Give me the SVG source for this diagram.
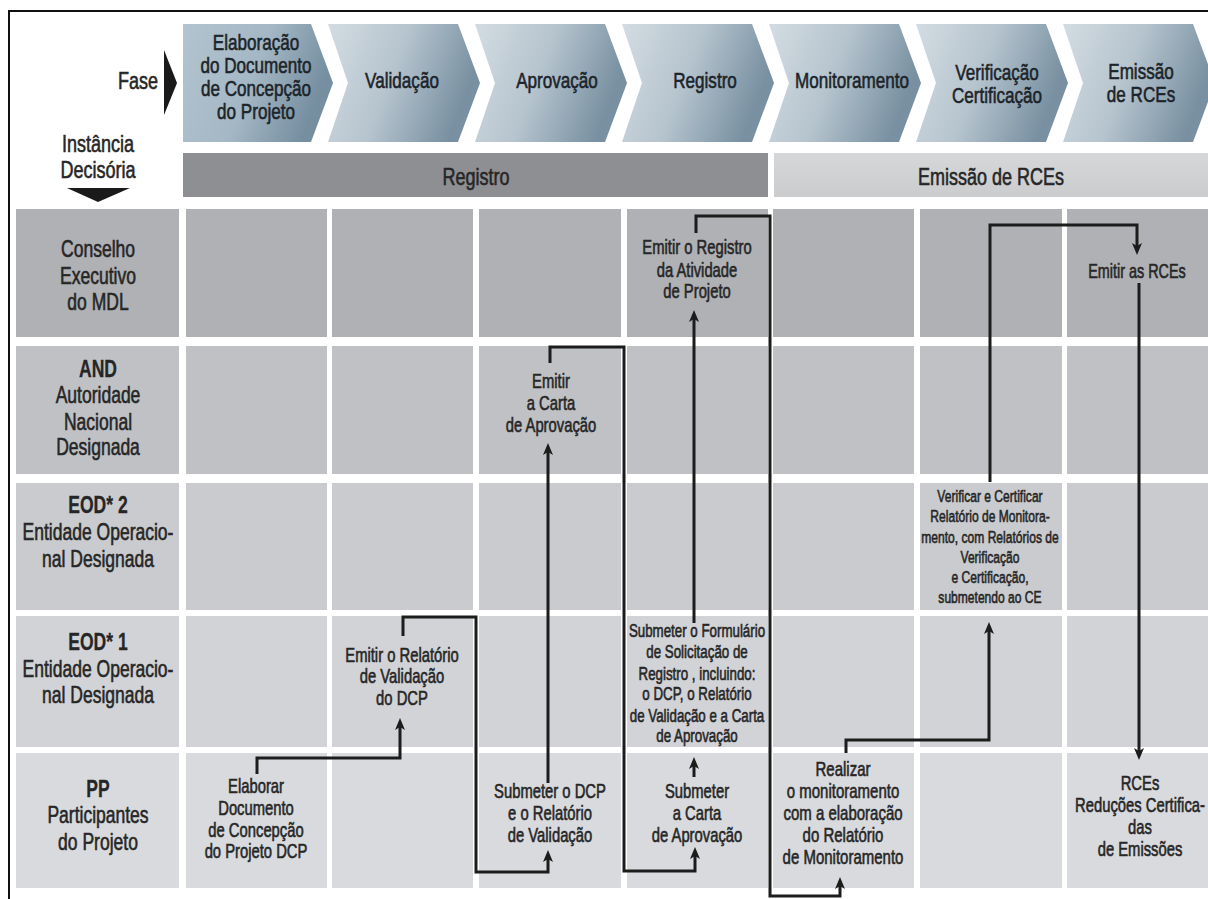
<svg xmlns="http://www.w3.org/2000/svg" width="1208" height="899" viewBox="0 0 1208 899">
<defs>
<style>
.t{font-family:"Liberation Sans",Arial,sans-serif;text-anchor:middle;fill:#262626;stroke:#262626;stroke-width:.6}
.ch{font-size:22.5px;fill:#1c242a;stroke:#1c242a}
.hd{font-size:24px}
.c{font-size:20px}
.s{font-size:18px}
.xs{font-size:17px}
.b{font-weight:bold;stroke-width:.3}
.r1{fill:#afb1b4}.r2{fill:#bfc1c4}.r3{fill:#c9cbce}.r4{fill:#d1d3d6}.r5{fill:#d8dadd}
.ln{fill:none;stroke:#1c1c1c;stroke-width:3;marker-end:url(#arr)}
</style>
<linearGradient id="chev" x1="0" y1="0" x2="1" y2="0.3">
<stop offset="0" stop-color="#d3dce2"/>
<stop offset="0.5" stop-color="#b6c4ce"/>
<stop offset="1" stop-color="#7890a1"/>
</linearGradient>
<linearGradient id="chev0" x1="0" y1="0" x2="1" y2="0.3">
<stop offset="0" stop-color="#b3c4d0"/>
<stop offset="0.55" stop-color="#a4b7c4"/>
<stop offset="1" stop-color="#758ea0"/>
</linearGradient>
<linearGradient id="lbar" x1="0" y1="0" x2="0" y2="1">
<stop offset="0" stop-color="#d6d7d9"/>
<stop offset="1" stop-color="#cbccce"/>
</linearGradient>
<marker id="arr" viewBox="0 0 12 10" refX="3" refY="5" markerWidth="12" markerHeight="10" markerUnits="userSpaceOnUse" orient="auto">
<path d="M0,0 L12,5 L0,10 L3,5 Z" fill="#1c1c1c"/>
</marker>
</defs>
<rect width="1208" height="899" fill="#ffffff"/>
<path d="M9,899 V11 H1208" fill="none" stroke="#111" stroke-width="2"/>

<g id="phases">
<polygon points="183,24 311,24 333,83 311,142 183,142" fill="url(#chev0)"/>
<polygon points="328,24 458,24 480,83 458,142 328,142 348,83" fill="url(#chev)"/>
<polygon points="475,24 605,24 627,83 605,142 475,142 495,83" fill="url(#chev)"/>
<polygon points="622,24 752,24 774,83 752,142 622,142 642,83" fill="url(#chev)"/>
<polygon points="769,24 899,24 921,83 899,142 769,142 789,83" fill="url(#chev)"/>
<polygon points="916,24 1046,24 1068,83 1046,142 916,142 936,83" fill="url(#chev)"/>
<polygon points="1063,24 1193,24 1215,83 1193,142 1063,142 1083,83" fill="url(#chev)"/>
<g transform="translate(256 0) scale(.76 1)"><text class="t ch"><tspan x="0" y="50">Elaboração</tspan><tspan x="0" y="73">do Documento</tspan><tspan x="0" y="96">de Concepção</tspan><tspan x="0" y="119">do Projeto</tspan></text></g>
<g transform="translate(402 0) scale(.76 1)"><text class="t ch"><tspan x="0" y="88">Validação</tspan></text></g>
<g transform="translate(557 0) scale(.76 1)"><text class="t ch"><tspan x="0" y="88">Aprovação</tspan></text></g>
<g transform="translate(705 0) scale(.76 1)"><text class="t ch"><tspan x="0" y="88">Registro</tspan></text></g>
<g transform="translate(852 0) scale(.76 1)"><text class="t ch"><tspan x="0" y="88">Monitoramento</tspan></text></g>
<g transform="translate(997 0) scale(.76 1)"><text class="t ch"><tspan x="0" y="80">Verificação</tspan><tspan x="0" y="103">Certificação</tspan></text></g>
<g transform="translate(1141 0) scale(.76 1)"><text class="t ch"><tspan x="0" y="79">Emissão</tspan><tspan x="0" y="102">de RCEs</tspan></text></g>
</g>

<g id="axis-labels">
<g transform="translate(158 0) scale(.75 1)"><text class="t hd" style="text-anchor:end"><tspan x="0" y="89">Fase</tspan></text></g>
<polygon points="164,50 177,83 164,115" fill="#1a1a1a"/>
<g transform="translate(98 0) scale(.75 1)"><text class="t hd"><tspan x="0" y="152">Instância</tspan><tspan x="0" y="178">Decisória</tspan></text></g>
<polygon points="67,188 130,188 98,202" fill="#1a1a1a"/>
</g>

<g id="stage-bars">
<rect x="183" y="153" width="585" height="44" fill="#8e8f92"/>
<rect x="774" y="153" width="434" height="44" fill="url(#lbar)"/>
<g transform="translate(476 0) scale(.75 1)"><text class="t hd"><tspan x="0" y="185">Registro</tspan></text></g>
<g transform="translate(991 0) scale(.75 1)"><text class="t hd"><tspan x="0" y="185">Emissão de RCEs</tspan></text></g>
</g>

<g id="grid">
<rect class="r1" x="16" y="209" width="163" height="128"/><rect class="r1" x="186" y="209" width="141" height="128"/><rect class="r1" x="332" y="209" width="141" height="128"/><rect class="r1" x="479" y="209" width="142" height="128"/><rect class="r1" x="627" y="209" width="141" height="128"/><rect class="r1" x="773" y="209" width="141" height="128"/><rect class="r1" x="920" y="209" width="142" height="128"/><rect class="r1" x="1067" y="209" width="141" height="128"/>
<rect class="r2" x="16" y="346" width="163" height="128"/><rect class="r2" x="186" y="346" width="141" height="128"/><rect class="r2" x="332" y="346" width="141" height="128"/><rect class="r2" x="479" y="346" width="142" height="128"/><rect class="r2" x="627" y="346" width="141" height="128"/><rect class="r2" x="773" y="346" width="141" height="128"/><rect class="r2" x="920" y="346" width="142" height="128"/><rect class="r2" x="1067" y="346" width="141" height="128"/>
<rect class="r3" x="16" y="483" width="163" height="127"/><rect class="r3" x="186" y="483" width="141" height="127"/><rect class="r3" x="332" y="483" width="141" height="127"/><rect class="r3" x="479" y="483" width="142" height="127"/><rect class="r3" x="627" y="483" width="141" height="127"/><rect class="r3" x="773" y="483" width="141" height="127"/><rect class="r3" x="920" y="483" width="142" height="127"/><rect class="r3" x="1067" y="483" width="141" height="127"/>
<rect class="r4" x="16" y="616" width="163" height="131"/><rect class="r4" x="186" y="616" width="141" height="131"/><rect class="r4" x="332" y="616" width="141" height="131"/><rect class="r4" x="479" y="616" width="142" height="131"/><rect class="r4" x="627" y="616" width="141" height="131"/><rect class="r4" x="773" y="616" width="141" height="131"/><rect class="r4" x="920" y="616" width="142" height="131"/><rect class="r4" x="1067" y="616" width="141" height="131"/>
<rect class="r5" x="16" y="753" width="163" height="135"/><rect class="r5" x="186" y="753" width="141" height="135"/><rect class="r5" x="332" y="753" width="141" height="135"/><rect class="r5" x="479" y="753" width="142" height="135"/><rect class="r5" x="627" y="753" width="141" height="135"/><rect class="r5" x="773" y="753" width="141" height="135"/><rect class="r5" x="920" y="753" width="142" height="135"/><rect class="r5" x="1067" y="753" width="141" height="135"/>
</g>

<g id="row-headers">
<g id="h-conselho" transform="translate(98 0) scale(.73 1)"><text class="t hd"><tspan x="0" y="257">Conselho</tspan><tspan x="0" y="284">Executivo</tspan><tspan x="0" y="310">do MDL</tspan></text></g>
<g id="h-and" transform="translate(98 0) scale(.73 1)"><text class="t hd"><tspan x="0" y="377" class="b">AND</tspan><tspan x="0" y="403">Autoridade</tspan><tspan x="0" y="430">Nacional</tspan><tspan x="0" y="455">Designada</tspan></text></g>
<g id="h-eod2" transform="translate(98 0) scale(.73 1)"><text class="t hd"><tspan x="0" y="513" class="b">EOD* 2</tspan><tspan x="0" y="540">Entidade Operacio-</tspan><tspan x="0" y="567">nal Designada</tspan></text></g>
<g id="h-eod1" transform="translate(98 0) scale(.73 1)"><text class="t hd"><tspan x="0" y="650" class="b">EOD* 1</tspan><tspan x="0" y="677">Entidade Operacio-</tspan><tspan x="0" y="703">nal Designada</tspan></text></g>
<g id="h-pp" transform="translate(98 0) scale(.73 1)"><text class="t hd"><tspan x="0" y="797" class="b">PP</tspan><tspan x="0" y="823">Participantes</tspan><tspan x="0" y="850">do Projeto</tspan></text></g>
</g>

<g id="connectors">
<path class="ln" d="M257,774 V758 H400 V727"/>
<path class="ln" d="M403,636 V617 H476 V872 H548 V859"/>
<path class="ln" d="M548,783 V452"/>
<path class="ln" d="M550,363 V347 H624 V871 H695 V856"/>
<path class="ln" d="M694,777 V766"/>
<path class="ln" d="M694,623 V319"/>
<path class="ln" d="M696,233 V216 H770 V896 H840 V886"/>
<path class="ln" d="M846,753 V740 H989 V631"/>
<path class="ln" d="M990,482 V225 H1137 V246"/>
<path class="ln" d="M1139,283 V751"/>
</g>

<g id="n-elaborar" transform="translate(256 0) scale(.74 1)"><text class="t c"><tspan x="0" y="793">Elaborar</tspan><tspan x="0" y="815">Documento</tspan><tspan x="0" y="837">de Concepção</tspan><tspan x="0" y="858">do Projeto DCP</tspan></text></g>
<g id="n-emitir-relatorio" transform="translate(402 0) scale(.74 1)"><text class="t c"><tspan x="0" y="662">Emitir o Relatório</tspan><tspan x="0" y="683">de Validação</tspan><tspan x="0" y="705">do DCP</tspan></text></g>
<g id="n-submeter-dcp" transform="translate(550 0) scale(.74 1)"><text class="t c"><tspan x="0" y="798">Submeter o DCP</tspan><tspan x="0" y="820">e o Relatório</tspan><tspan x="0" y="842">de Validação</tspan></text></g>
<g id="n-emitir-carta" transform="translate(551 0) scale(.74 1)"><text class="t c"><tspan x="0" y="388">Emitir</tspan><tspan x="0" y="410">a Carta</tspan><tspan x="0" y="432">de Aprovação</tspan></text></g>
<g id="n-submeter-carta" transform="translate(697 0) scale(.74 1)"><text class="t c"><tspan x="0" y="798">Submeter</tspan><tspan x="0" y="820">a Carta</tspan><tspan x="0" y="842">de Aprovação</tspan></text></g>
<g id="n-formulario" transform="translate(697 0) scale(.74 1)"><text class="t s"><tspan x="0" y="637">Submeter o Formulário</tspan><tspan x="0" y="658">de Solicitação de</tspan><tspan x="0" y="680">Registro , incluindo:</tspan><tspan x="0" y="700">o DCP, o Relatório</tspan><tspan x="0" y="722">de Validação e a Carta</tspan><tspan x="0" y="742">de Aprovação</tspan></text></g>
<g id="n-emitir-registro" transform="translate(697 0) scale(.74 1)"><text class="t c"><tspan x="0" y="254">Emitir o Registro</tspan><tspan x="0" y="277">da Atividade</tspan><tspan x="0" y="298">de Projeto</tspan></text></g>
<g id="n-realizar" transform="translate(843 0) scale(.75 1)"><text class="t c"><tspan x="0" y="776">Realizar</tspan><tspan x="0" y="798">o monitoramento</tspan><tspan x="0" y="820">com a elaboração</tspan><tspan x="0" y="842">do Relatório</tspan><tspan x="0" y="864">de Monitoramento</tspan></text></g>
<g id="n-verificar" transform="translate(990 0) scale(.71 1)"><text class="t xs"><tspan x="0" y="502">Verificar e Certificar</tspan><tspan x="0" y="522">Relatório de Monitora-</tspan><tspan x="0" y="543">mento, com  Relatórios de</tspan><tspan x="0" y="563">Verificação</tspan><tspan x="0" y="583">e Certificação,</tspan><tspan x="0" y="603">submetendo ao CE</tspan></text></g>
<g id="n-emitir-rces" transform="translate(1137 0) scale(.72 1)"><text class="t c"><tspan x="0" y="278">Emitir as RCEs</tspan></text></g>
<g id="n-rces" transform="translate(1140 0) scale(.74 1)"><text class="t c"><tspan x="0" y="790">RCEs</tspan><tspan x="0" y="812">Reduções Certifica-</tspan><tspan x="0" y="834">das</tspan><tspan x="0" y="856">de Emissões</tspan></text></g>
</svg>
